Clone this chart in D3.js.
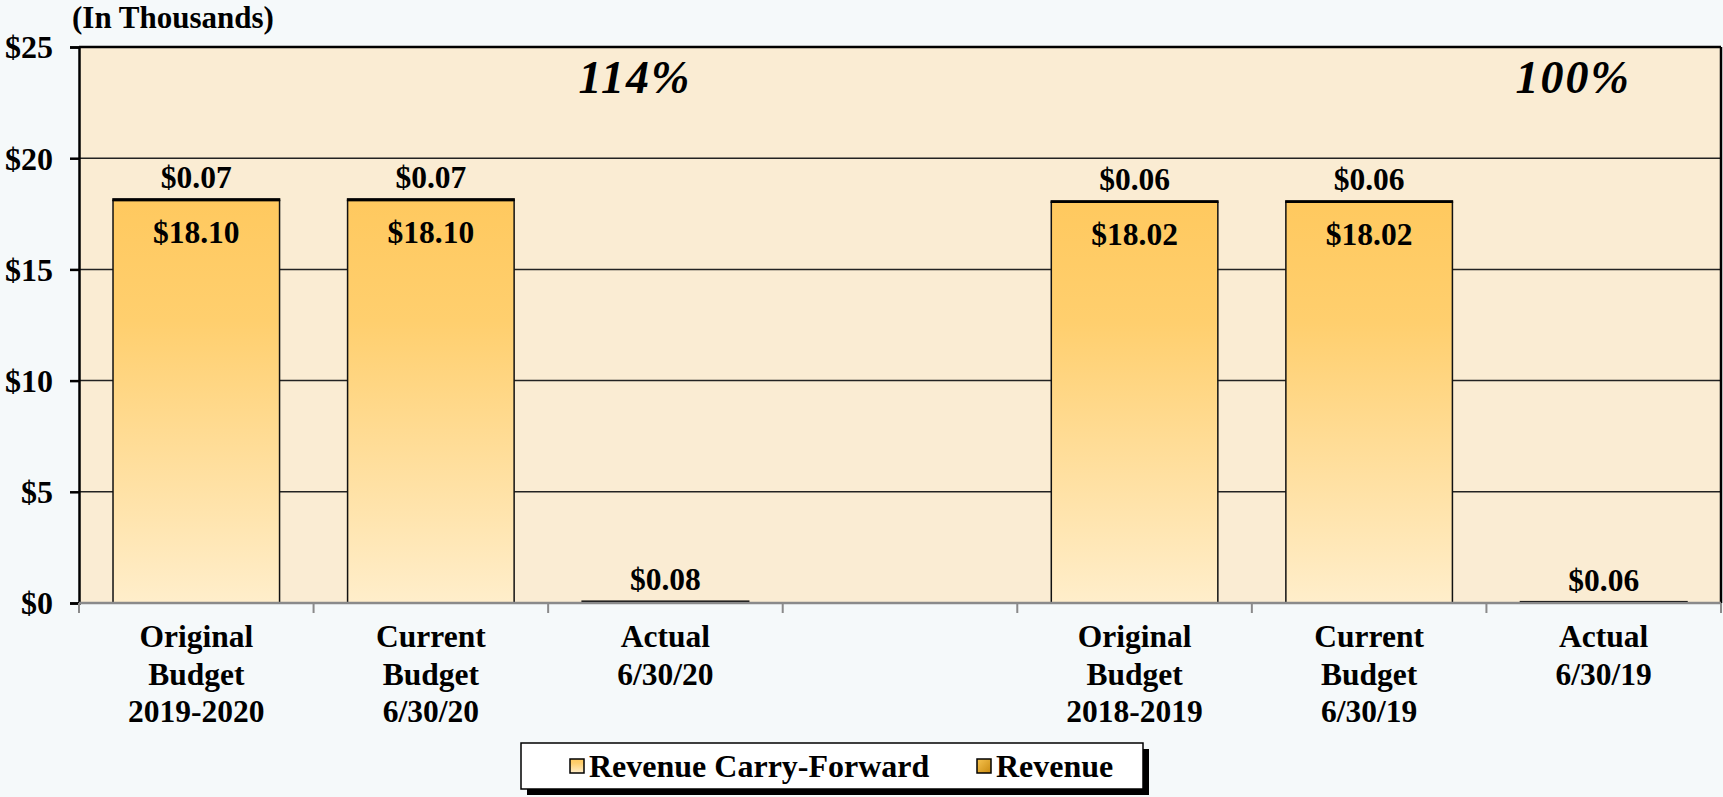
<!DOCTYPE html>
<html>
<head>
<meta charset="utf-8">
<script src="https://cdn.jsdelivr.net/npm/d3@7"></script>
<style>
  html, body { margin: 0; padding: 0; background: #f5f9fa; }
  svg { display: block; }
  text { font-family: "Liberation Serif", "Times New Roman", serif; font-weight: bold; fill: #000; }
</style>
</head>
<body>
<div id="chart"></div>
<script>
// chart data (in thousands)
var categories = ["Original|Budget|2019-2020", "Current|Budget|6/30/20", "Actual|6/30/20", "",
                  "Original|Budget|2018-2019", "Current|Budget|6/30/19", "Actual|6/30/19"];
var carryForward = [18.10, 18.10, 0, null, 18.02, 18.02, 0];
var revenue = [0.07, 0.07, 0.08, null, 0.06, 0.06, 0.06];
var revenueLabels = ["$0.07", "$0.07", "$0.08", "", "$0.06", "$0.06", "$0.06"];
var carryLabels = ["$18.10", "$18.10", "", "", "$18.02", "$18.02", ""];
var percentLabels = [{cat: 2, text: "114%"}, {cat: 6, text: "100%"}];
var yTicks = [0, 5, 10, 15, 20, 25];
var seriesNames = ["Revenue Carry-Forward", "Revenue"];

var width = 1723, height = 797;
var margin = {left: 79, right: 2, top: 47, bottom: 194};

var svg = d3.select("#chart").append("svg")
    .attr("width", width)
    .attr("height", height);

var defs = svg.append("defs");
var g1 = defs.append("linearGradient").attr("id", "cfGrad")
    .attr("x1", 0).attr("y1", 0).attr("x2", 0).attr("y2", 1);
g1.append("stop").attr("offset", "0%").attr("stop-color", "#ffc95f");
g1.append("stop").attr("offset", "30%").attr("stop-color", "#ffcf6e");
g1.append("stop").attr("offset", "100%").attr("stop-color", "#ffeecb");
var g2 = defs.append("linearGradient").attr("id", "revGrad")
    .attr("x1", 0).attr("y1", 0).attr("x2", 1).attr("y2", 1);
g2.append("stop").attr("offset", "0%").attr("stop-color", "#f7c450");
g2.append("stop").attr("offset", "100%").attr("stop-color", "#c98a10");

var x = d3.scaleBand()
    .domain(d3.range(categories.length))
    .range([margin.left, width - margin.right])
    .paddingInner(0.29).paddingOuter(0.145);
var slot = (width - margin.right - margin.left) / categories.length;

var y = d3.scaleLinear().domain([0, 25]).range([height - margin.bottom, margin.top]);

// plot background
svg.append("rect")
    .attr("x", margin.left).attr("y", y(25))
    .attr("width", width - margin.right - margin.left)
    .attr("height", y(0) - y(25))
    .attr("fill", "#faecd3");

// grid lines
svg.append("g").selectAll("line")
    .data(yTicks.filter(d => d > 0 && d < 25))
    .join("line")
    .attr("x1", margin.left).attr("x2", width - margin.right)
    .attr("y1", d => y(d)).attr("y2", d => y(d))
    .attr("stroke", "#222").attr("stroke-width", 1.5);

// top and right border
svg.append("line")
    .attr("x1", margin.left).attr("x2", width - margin.right)
    .attr("y1", y(25)).attr("y2", y(25))
    .attr("stroke", "#000").attr("stroke-width", 2.5);
svg.append("line")
    .attr("x1", width - margin.right).attr("x2", width - margin.right)
    .attr("y1", y(25)).attr("y2", y(0))
    .attr("stroke", "#000").attr("stroke-width", 2.5);

// bars
var idx = d3.range(categories.length).filter(i => carryForward[i] !== null);
var bars = svg.append("g");
bars.selectAll("rect.cf")
    .data(idx.filter(i => carryForward[i] > 0))
    .join("rect").attr("class", "cf")
    .attr("x", i => x(i)).attr("width", x.bandwidth())
    .attr("y", i => y(carryForward[i]))
    .attr("height", i => y(0) - y(carryForward[i]))
    .attr("fill", "url(#cfGrad)")
    .attr("stroke", "#111").attr("stroke-width", 1.5);
bars.selectAll("rect.rev")
    .data(idx)
    .join("rect").attr("class", "rev")
    .attr("x", i => x(i)).attr("width", x.bandwidth())
    .attr("y", i => y(carryForward[i] + revenue[i]))
    .attr("height", i => y(carryForward[i]) - y(carryForward[i] + revenue[i]))
    .attr("fill", "#000")
    .attr("stroke", "#000").attr("stroke-width", 1.5);

// value labels
svg.append("g").selectAll("text")
    .data(idx)
    .join("text")
    .attr("x", i => x(i) + x.bandwidth() / 2)
    .attr("y", i => y(carryForward[i] + revenue[i]) - 11)
    .attr("text-anchor", "middle")
    .style("font-size", "31.5px")
    .text(i => revenueLabels[i]);
svg.append("g").selectAll("text")
    .data(idx.filter(i => carryLabels[i]))
    .join("text")
    .attr("x", i => x(i) + x.bandwidth() / 2)
    .attr("y", i => y(carryForward[i]) + 43)
    .attr("text-anchor", "middle")
    .style("font-size", "31.5px")
    .text(i => carryLabels[i]);

// percentage annotations
svg.append("g").selectAll("text")
    .data(percentLabels)
    .join("text")
    .attr("x", d => x(d.cat) - x.step() * x.paddingInner() / 2 + slot * 0.37)
    .attr("y", y(25) + 46)
    .attr("text-anchor", "middle")
    .style("font-size", "46px").style("font-style", "italic")
    .style("letter-spacing", "2px")
    .text(d => d.text);

// y axis
var yAxis = svg.append("g")
    .attr("transform", "translate(" + margin.left + ",0)")
    .call(d3.axisLeft(y).tickValues(yTicks).tickSize(9).tickPadding(17).tickFormat(d => "$" + d));
yAxis.select(".domain").attr("stroke", "#000").attr("stroke-width", 2.5);
yAxis.selectAll(".tick line").attr("stroke", "#000").attr("stroke-width", 2.5);
yAxis.selectAll(".tick text")
    .style("font-size", "32px")
    .style("font-family", "'Liberation Serif', 'Times New Roman', serif")
    .style("font-weight", "bold")
    .attr("dy", "0.34em");

// x axis with ticks between slots
var bottom = svg.append("g");
bottom.append("line")
    .attr("x1", margin.left).attr("x2", width - margin.right)
    .attr("y1", y(0)).attr("y2", y(0))
    .attr("stroke", "#8a8a8a").attr("stroke-width", 2.5);
bottom.selectAll("line.tk")
    .data(d3.range(categories.length + 1))
    .join("line").attr("class", "tk")
    .attr("x1", i => margin.left + i * slot).attr("x2", i => margin.left + i * slot)
    .attr("y1", y(0)).attr("y2", y(0) + 10)
    .attr("stroke", "#8a8a8a").attr("stroke-width", 2);

var catText = svg.append("g").selectAll("text")
    .data(d3.range(categories.length).filter(i => categories[i]))
    .join("text")
    .attr("text-anchor", "middle")
    .style("font-size", "31.5px")
    .attr("transform", i => "translate(" + (x(i) + x.bandwidth() / 2) + "," + (y(0) + 44) + ")");
catText.selectAll("tspan")
    .data(i => categories[i].split("|"))
    .join("tspan")
    .attr("x", 0)
    .attr("y", (d, j) => j * 37.5)
    .text(d => d);

// axis title
svg.append("text")
    .attr("x", 72).attr("y", 28)
    .style("font-size", "31px")
    .text("(In Thousands)");

// legend
var lg = svg.append("g").attr("transform", "translate(521,743)");
lg.append("rect").attr("x", 6).attr("y", 6).attr("width", 622).attr("height", 46).attr("fill", "#000");
lg.append("rect").attr("x", 0).attr("y", 0).attr("width", 622).attr("height", 46)
    .attr("fill", "#fff").attr("stroke", "#000").attr("stroke-width", 1.5);
var legendItems = [
  {name: seriesNames[0], fill: "url(#cfGrad)", sx: 49, tx: 68},
  {name: seriesNames[1], fill: "url(#revGrad)", sx: 456, tx: 475}
];
legendItems.forEach(function(d) {
  lg.append("rect").attr("x", d.sx).attr("y", 16).attr("width", 14).attr("height", 14)
    .attr("fill", d.fill).attr("stroke", "#000").attr("stroke-width", 1.5);
  lg.append("text").attr("x", d.tx).attr("y", 34).style("font-size", "32px").text(d.name);
});
</script>
</body>
</html>
